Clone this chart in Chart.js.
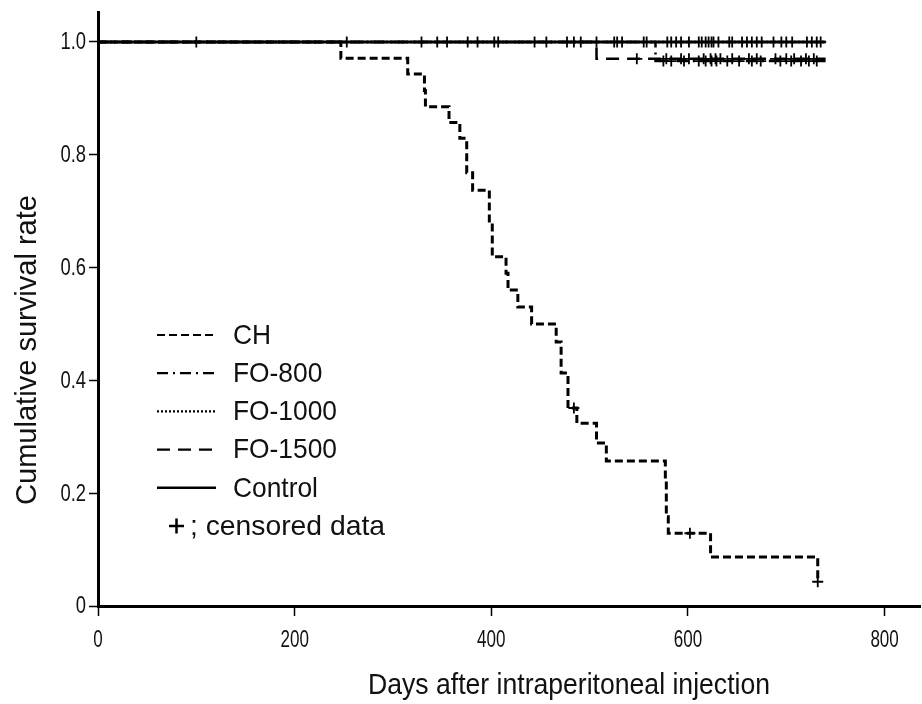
<!DOCTYPE html>
<html>
<head>
<meta charset="utf-8">
<script src="https://cdn.jsdelivr.net/npm/chart.js@4.4.0/dist/chart.umd.min.js"></script>
<style>
  html, body { margin: 0; padding: 0; background: #fff; }
  #wrap { width: 922px; height: 704px; }
</style>
</head>
<body>
<div id="wrap"><canvas id="survChart" width="922" height="704"></canvas></div>
<script>
// Kaplan-Meier curves (days, cumulative survival)
const chDays = [0, 247, 315, 332, 333, 357, 368, 375, 381, 398, 401, 415, 417, 427, 441, 466, 471, 478, 487, 507, 517, 577, 578, 580, 623, 732];
const chSurv = [1, 0.971, 0.943, 0.914, 0.885, 0.857, 0.829, 0.768, 0.737, 0.679, 0.619, 0.590, 0.560, 0.530, 0.500, 0.468, 0.413, 0.351, 0.324, 0.289, 0.257, 0.224, 0.158, 0.129, 0.087, 0.043];
const chCensorDays = [484, 602, 732];
const chCensorSurv = [0.351, 0.129, 0.043];

const fo800Days = [0, 567, 740];
const fo800Surv = [1, 0.966, 0.966];
const fo800CensorDays = [575, 583, 596, 611, 618, 624, 629, 640, 652, 665, 674, 694, 705, 715, 723, 731];

const fo1000Days = [0, 740];
const fo1000Surv = [1, 1];
const fo1000CensorDays = [253, 345, 376, 403, 444, 477, 491, 525, 533, 558, 583, 593, 611, 618, 624, 631, 645, 660, 670, 687, 700, 721, 731];

const fo1500Days = [0, 507, 740];
const fo1500Surv = [1, 0.970, 0.970];
const fo1500CensorDays = [548, 578, 593, 601, 616, 623, 628, 633, 645, 662, 670, 689, 700, 708, 720, 728];

const controlDays = [0, 740];
const controlSurv = [1, 1];
const controlCensorDays = [100, 329, 355, 386, 407, 456, 484, 507, 528, 555, 579, 588, 601, 614, 621, 626, 642, 655, 665, 675, 695, 706, 726, 735];

const xTickValues = [0, 200, 400, 600, 800];
const yTickValues = [0, 0.2, 0.4, 0.6, 0.8, 1.0];
const legendLabels = ['CH', 'FO-800', 'FO-1000', 'FO-1500', 'Control'];
const censorLabel = '; censored data';
const xTitle = 'Days after intraperitoneal injection';
const yTitle = 'Cumulative survival rate';

// no narrow font installed -> squeeze Liberation Sans by hand
const FONT = '"Liberation Sans", Arial, sans-serif';

// line styles per group (same order as legendLabels)
const dashes = [[8, 4], [11, 5, 2, 5], [2, 2], [13, 8], []];
const widths = [3, 2.5, 2.5, 2.5, 3];

function pts(days, surv) {
  return days.map((d, i) => ({ x: d, y: surv[i] }));
}
function censorPts(days, level) {
  return days.map(d => ({ x: d, y: level }));
}

function curve(label, days, surv, k, order) {
  return {
    label: label,
    data: pts(days, surv),
    showLine: true,
    stepped: 'before',
    borderColor: '#000',
    borderWidth: widths[k],
    borderDash: dashes[k],
    pointRadius: 0,
    pointHoverRadius: 0,
    order: order
  };
}
function censors(data) {
  return {
    label: 'censored',
    data: data,
    showLine: false,
    pointStyle: 'cross',
    pointRadius: 5.5,
    pointBorderColor: '#000',
    pointBorderWidth: 1.8,
    order: 0
  };
}

// text squeezed horizontally by sx
function squeezed(ctx, txt, x, y, sx, align) {
  ctx.save();
  ctx.translate(x, y);
  ctx.scale(sx, 1);
  ctx.textAlign = align;
  ctx.fillText(txt, 0, 0);
  ctx.restore();
}

// tick labels, legend and axis titles drawn by hand, like the original figure
const kmExtras = {
  id: 'kmExtras',
  afterDraw(chart) {
    const ctx = chart.ctx;
    const xs = chart.scales.x, ys = chart.scales.y;
    ctx.save();
    ctx.fillStyle = '#111';
    ctx.textBaseline = 'middle';

    // tick labels
    ctx.font = '23px ' + FONT;
    xTickValues.forEach(v => squeezed(ctx, String(v), xs.getPixelForValue(v), 641, 0.74, 'center'));
    yTickValues.forEach(v => squeezed(ctx, v === 0 ? '0' : v.toFixed(1), 86, ys.getPixelForValue(v) + 1, 0.8, 'right'));

    // axis titles
    ctx.font = '30px ' + FONT;
    ctx.textBaseline = 'alphabetic';
    let w = ctx.measureText(xTitle).width;
    squeezed(ctx, xTitle, 569, 694, 402 / w, 'center');

    ctx.save();
    ctx.translate(36, 350);
    ctx.rotate(-Math.PI / 2);
    ctx.font = '29px ' + FONT;
    w = ctx.measureText(yTitle).width;
    squeezed(ctx, yTitle, 0, 0, 310 / w, 'center');
    ctx.restore();

    // legend
    ctx.textBaseline = 'middle';
    ctx.font = '28px ' + FONT;
    const lsx = 104 / ctx.measureText('FO-1000').width;
    ctx.strokeStyle = '#000';
    legendLabels.forEach((lab, i) => {
      const y = 335 + i * 38.2;
      ctx.beginPath();
      ctx.lineWidth = i === 4 ? 2.5 : 2.2;
      ctx.setLineDash(dashes[i]);
      ctx.moveTo(157, y);
      ctx.lineTo(216, y);
      ctx.stroke();
      ctx.setLineDash([]);
      squeezed(ctx, lab, 233, y + 1, lsx, 'left');
    });
    const cy = 335 + 5 * 38.2;
    ctx.lineWidth = 2.5;
    ctx.beginPath();
    ctx.moveTo(169, cy); ctx.lineTo(184, cy);
    ctx.moveTo(176.5, cy - 7.5); ctx.lineTo(176.5, cy + 7.5);
    ctx.stroke();
    squeezed(ctx, censorLabel, 190, cy + 1, 195 / ctx.measureText(censorLabel).width, 'left');
    ctx.restore();
  }
};

new Chart(document.getElementById('survChart'), {
  type: 'scatter',
  data: {
    datasets: [
      censors(censorPts(controlCensorDays, 1)),
      censors(censorPts(fo1000CensorDays, 1)),
      censors(censorPts(fo800CensorDays, 0.966)),
      censors(censorPts(fo1500CensorDays, 0.970)),
      censors(pts(chCensorDays, chCensorSurv)),
      curve(legendLabels[4], controlDays, controlSurv, 4, 1),
      curve(legendLabels[2], fo1000Days, fo1000Surv, 2, 2),
      curve(legendLabels[1], fo800Days, fo800Surv, 1, 3),
      curve(legendLabels[3], fo1500Days, fo1500Surv, 3, 4),
      curve(legendLabels[0], chDays, chSurv, 0, 5)
    ]
  },
  options: {
    responsive: false,
    animation: false,
    devicePixelRatio: 1,
    layout: { autoPadding: false, padding: { top: 12, right: 2, left: 0, bottom: 0 } },
    plugins: {
      legend: { display: false },
      tooltip: { enabled: false }
    },
    scales: {
      x: {
        type: 'linear',
        min: 0,
        max: 836,
        afterBuildTicks: s => { s.ticks = xTickValues.map(v => ({ value: v })); },
        afterFit: s => { s.height = 98; },
        ticks: { display: false },
        grid: { drawOnChartArea: false, drawTicks: true, tickLength: 10, tickColor: '#000', tickWidth: 1.5 },
        border: { color: '#000', width: 3 }
      },
      y: {
        min: 0,
        max: 1.053,
        afterBuildTicks: s => { s.ticks = yTickValues.map(v => ({ value: v })); },
        afterFit: s => { s.width = 98; },
        ticks: { display: false },
        grid: { drawOnChartArea: false, drawTicks: true, tickLength: 9, tickColor: '#000', tickWidth: 1.5 },
        border: { color: '#000', width: 3 }
      }
    }
  },
  plugins: [kmExtras]
});
</script>
</body>
</html>
